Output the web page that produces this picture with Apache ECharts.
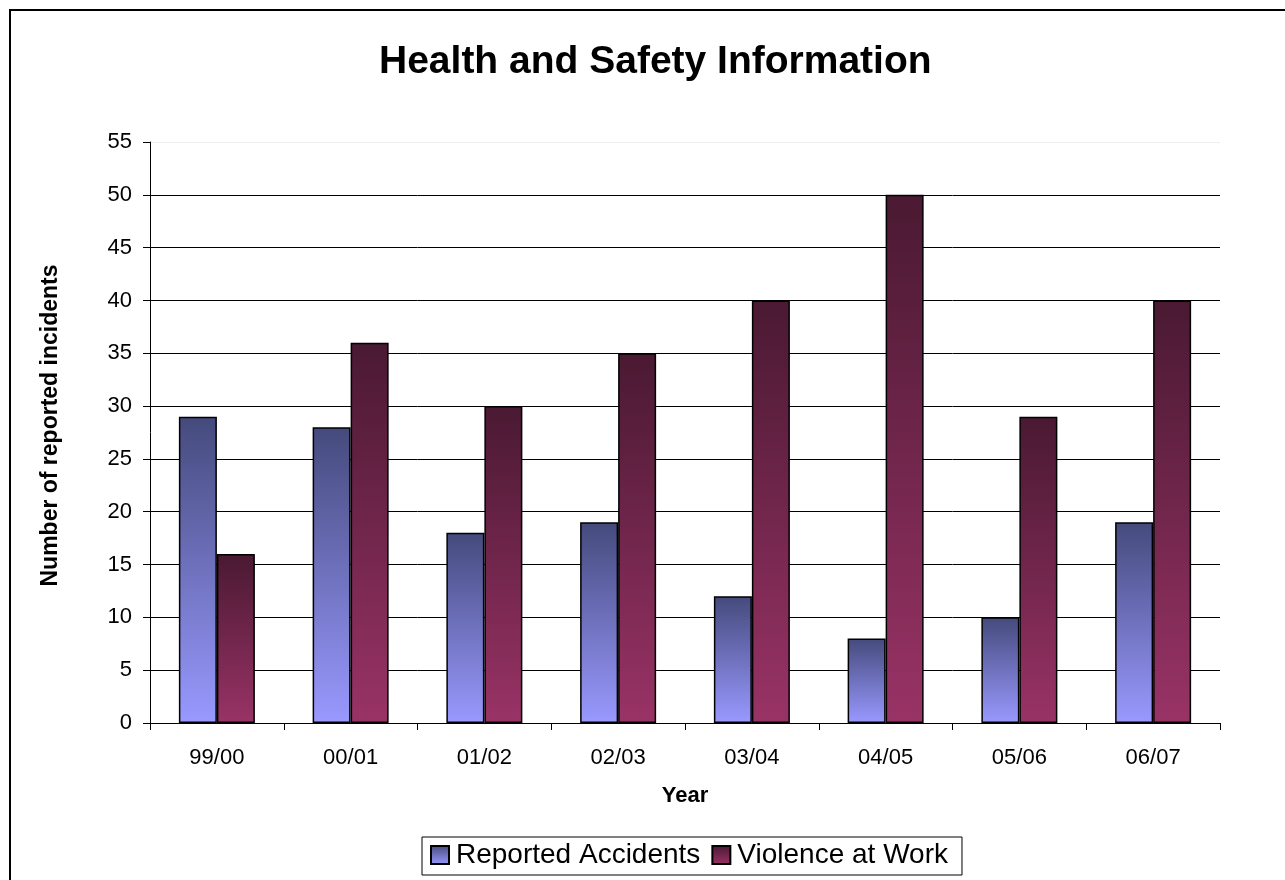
<!DOCTYPE html>
<html>
<head>
<meta charset="utf-8">
<script src="https://cdn.jsdelivr.net/npm/echarts@6/dist/echarts.min.js"></script>
<style>
    html, body { margin: 0; padding: 0; background: #fff; overflow: hidden; }
    #frame { position: absolute; left: 9px; top: 9px; width: 1300px; height: 900px; border: 2px solid #000; }
    #main { position: absolute; left: 0; top: 0; width: 1285px; height: 880px; }
</style>
</head>
<body>
<div id="frame"></div>
<div id="main"></div>
<script>
// 年份
var years = ['99/00', '00/01', '01/02', '02/03', '03/04', '04/05', '05/06', '06/07'];
// 事故数
var accidents = [29, 28, 18, 19, 12, 8, 10, 19];
// 暴力事件
var violence = [16, 36, 30, 35, 40, 50, 29, 40];
var yTicks = [0, 5, 10, 15, 20, 25, 30, 35, 40, 45, 50, 55];

var font = 'Liberation Sans, Arial, sans-serif';

function grad(top, bottom) {
    return new echarts.graphic.LinearGradient(0, 0, 0, 1, [
        { offset: 0, color: top },
        { offset: 1, color: bottom }
    ]);
}

// 网格线颜色, 最上面一条很淡
var splitColors = yTicks.map(function (v, i) {
    return i == yTicks.length - 1 ? '#eeeeee' : '#000000';
});

var myChart = echarts.init(document.getElementById('main'));
var option = {
    backgroundColor: 'transparent',
    animation: false,
    title: {
        text: 'Health and Safety Information',
        left: 374,
        top: 38,
        textStyle: { fontFamily: font, fontSize: 39, fontWeight: 'bold', color: '#000' }
    },
    grid: { left: 150, right: 65, top: 142, bottom: 157 },
    legend: {
        left: 422,
        top: 837,
        padding: [4, 14, 6, 8],
        borderColor: '#000',
        borderWidth: 1,
        itemWidth: 18,
        itemHeight: 18,
        itemGap: 11,
        icon: 'rect',
        textStyle: { fontFamily: font, fontSize: 28, color: '#000', padding: [0, 0, 0, 2] },
        data: ['Reported Accidents', 'Violence at Work']
    },
    xAxis: {
        type: 'category',
        data: years,
        name: 'Year',
        nameLocation: 'middle',
        nameGap: 62,
        nameTextStyle: { fontFamily: font, fontSize: 22, fontWeight: 'bold', color: '#000' },
        axisLine: { lineStyle: { color: '#000', width: 1 } },
        axisTick: { show: true, length: 7, lineStyle: { color: '#000' } },
        axisLabel: { fontFamily: font, fontSize: 22, color: '#000', margin: 24 },
        splitLine: { show: false }
    },
    yAxis: {
        type: 'value',
        min: 0,
        max: 55,
        interval: 5,
        name: 'Number of reported incidents',
        nameLocation: 'middle',
        nameGap: 88,
        nameRotate: 90,
        nameTextStyle: { fontFamily: font, fontSize: 23, fontWeight: 'bold', color: '#000', padding: [0, 0, 0, 14] },
        axisLine: { show: true, lineStyle: { color: '#000', width: 1 } },
        axisTick: { show: true, length: 7, lineStyle: { color: '#000' } },
        axisLabel: { fontFamily: font, fontSize: 22, color: '#000', margin: 18 },
        splitLine: { show: true, lineStyle: { color: splitColors, width: 1 } }
    },
    series: [
        {
            name: 'Reported Accidents',
            type: 'bar',
            barWidth: 38,
            barGap: '0%',
            data: accidents,
            itemStyle: {
                color: grad('#454a7c', '#9999ff'),
                borderColor: '#000',
                borderWidth: 1.5
            }
        },
        {
            name: 'Violence at Work',
            type: 'bar',
            barWidth: 38,
            data: violence,
            itemStyle: {
                color: grad('#4a1932', '#993366'),
                borderColor: '#000',
                borderWidth: 1.5
            }
        }
    ]
};
myChart.setOption(option);
</script>
</body>
</html>
